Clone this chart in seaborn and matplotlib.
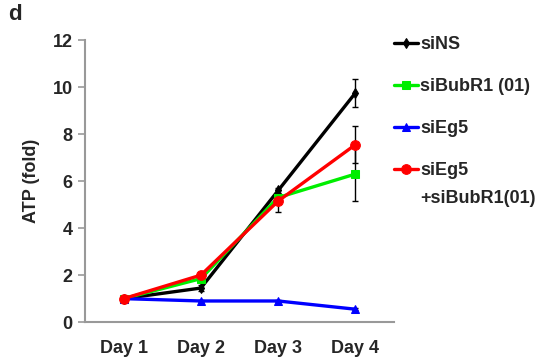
import matplotlib
matplotlib.use("Agg")
import matplotlib.pyplot as plt
import seaborn as sns
import pandas as pd
import numpy as np

days = ["Day 1", "Day 2", "Day 3", "Day 4"]
series = ["siNS", "siBubR1 (01)", "siEg5", "siEg5+siBubR1(01)"]
siNS = [1.0, 1.45, 5.6, 9.75]
siNS_err = [0.05, 0.12, 0.12, 0.6]
siBubR1 = [1.0, 1.85, 5.3, 6.3]
siBubR1_err = [0.05, 0.1, 0.2, 1.15]
siEg5 = [1.0, 0.9, 0.9, 0.55]
siEg5_err = [0.03, 0.03, 0.05, 0.05]
siEg5_BubR1 = [1.0, 2.0, 5.15, 7.55]
siEg5_BubR1_err = [0.05, 0.15, 0.45, 0.8]

values = [siNS, siBubR1, siEg5, siEg5_BubR1]
errors = [siNS_err, siBubR1_err, siEg5_err, siEg5_BubR1_err]
colors = ["#000000", "#00ee00", "#0000ff", "#ff0000"]
markers = ["d", "s", "^", "o"]
msizes = [5, 6, 6, 7]

sns.set_style("white")
plt.rcParams["font.family"] = ["Liberation Sans", "DejaVu Sans"]
plt.rcParams["font.weight"] = "bold"

rows = []
for s, v in zip(series, values):
    for i, d in enumerate(days):
        rows.append({"x": i, "day": d, "series": s, "value": v[i]})
df = pd.DataFrame(rows)

fig = plt.figure(figsize=(5.45, 3.64), dpi=100)
ax = fig.add_axes([0.156, 0.115, 0.567, 0.775])

FS = 13
order_draw = [2, 1, 3, 0]
for k in order_draw:
    s = series[k]
    sub = df[df["series"] == s]
    ax.errorbar(sub["x"], sub["value"], yerr=errors[k], fmt="none",
                ecolor="#000000", elinewidth=1.0, capsize=2.5, capthick=1.0,
                zorder=2 + k * 0.1)
    sns.lineplot(data=sub, x="x", y="value", ax=ax, color=colors[k],
                 marker=markers[k], markersize=msizes[k], markeredgecolor=colors[k],
                 linewidth=2.4, label=s, zorder=3 + k * 0.1)

ax.set_xlim(-0.5, 3.5)
ax.set_ylim(0, 12)
ax.set_yticks(np.arange(0, 13, 2))
ax.set_xticks(range(len(days)))
ax.set_xticklabels(days, fontsize=FS, fontweight="bold")
ax.set_xticks(np.arange(-0.5, 4.0, 1.0), minor=True)
ax.tick_params(axis="x", which="major", length=0, pad=13)
ax.tick_params(axis="x", which="minor", length=5, width=1.2, color="#999999", direction="out")
ax.tick_params(axis="y", length=5, width=1.2, color="#999999", direction="out", labelsize=FS, left=True, pad=4)
for lab in ax.get_yticklabels():
    lab.set_fontweight("bold")
ax.set_xlabel("")
ax.set_ylabel("ATP (fold)", fontsize=FS, fontweight="bold", labelpad=9)
for sp in ["top", "right"]:
    ax.spines[sp].set_visible(False)
for sp in ["left", "bottom"]:
    ax.spines[sp].set_color("#999999")
    ax.spines[sp].set_linewidth(1.5)

handles, labels = ax.get_legend_handles_labels()
idx = [labels.index(s) for s in series]
leg_labels = ["siNS", "siBubR1 (01)", "siEg5", "siEg5"]
leg = ax.legend([handles[i] for i in idx], leg_labels,
                loc="upper left", bbox_to_anchor=(0.71, 0.92),
                bbox_transform=fig.transFigure, frameon=False,
                handlelength=1.3, handletextpad=0.15, labelspacing=1.38,
                prop={"size": FS, "weight": "bold"}, borderaxespad=0)
fig.canvas.draw()
last = leg.get_texts()[-1]
bb = last.get_window_extent().transformed(fig.transFigure.inverted())
fig.text(bb.x0, bb.y0 - 0.078, "+siBubR1(01)", fontsize=FS, fontweight="bold",
         ha="left", va="bottom")

fig.text(0.015, 0.945, "d", fontsize=16, fontweight="bold")

fig.savefig("out.png", dpi=100)
